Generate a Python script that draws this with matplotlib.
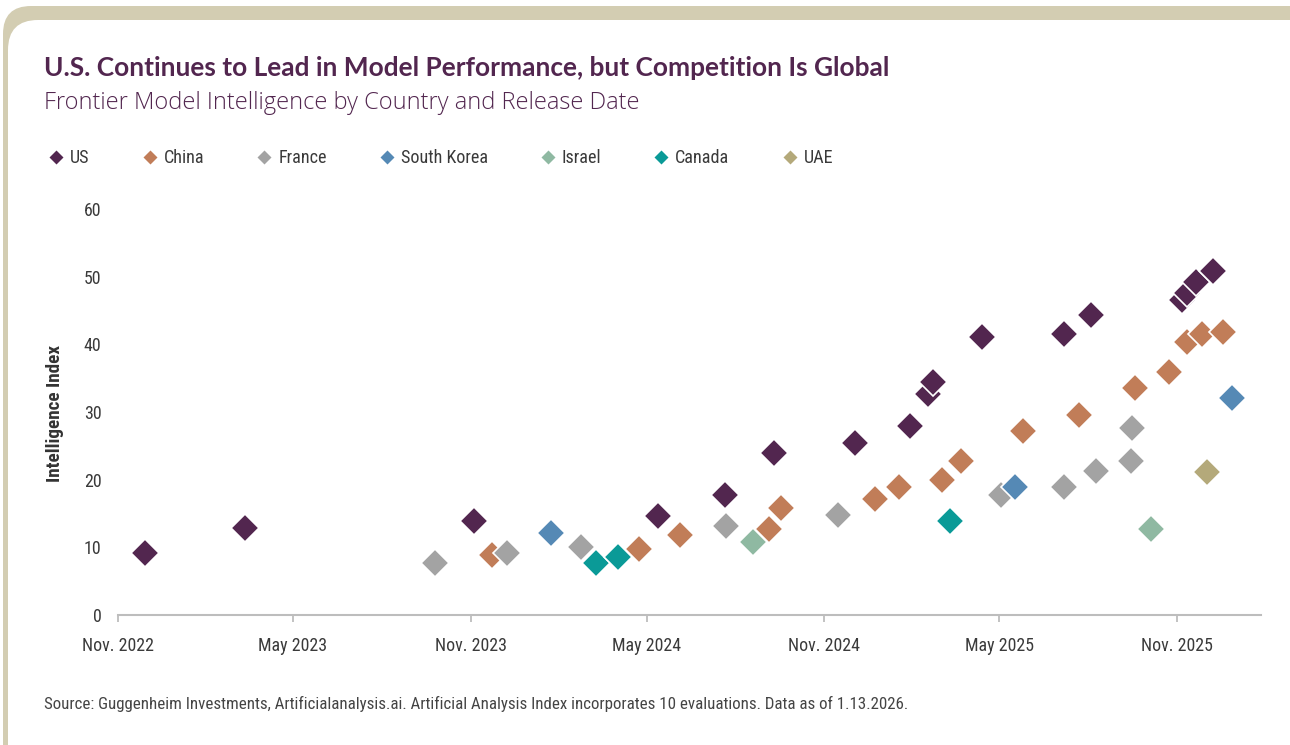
import matplotlib
matplotlib.use("Agg")
import matplotlib.pyplot as plt
import matplotlib.dates as mdates
from matplotlib import font_manager
from matplotlib.patches import FancyBboxPatch
from matplotlib.transforms import IdentityTransform
from matplotlib.lines import Line2D
import pandas as pd

# ---------------- data ----------------
countries = ["US", "China", "France", "South Korea", "Israel", "Canada", "UAE"]
colors = ["#52264F", "#C17D58", "#A3A3A3", "#5589B5", "#8FB9A2", "#0A9A97", "#B4A97A"]

us_dates = ["2022-11-29", "2023-03-12", "2023-11-04", "2024-05-13", "2024-07-21",
            "2024-09-10", "2024-12-03", "2025-01-29", "2025-02-16", "2025-02-22",
            "2025-04-13", "2025-07-07", "2025-08-04", "2025-11-06", "2025-11-11",
            "2025-11-21", "2025-12-08"]
us_values = [9.2, 12.9, 13.9, 14.7, 17.7, 23.9, 25.4, 27.9, 32.6, 34.5,
             41.1, 41.5, 44.3, 46.5, 47.6, 49.2, 50.8]

china_dates = ["2023-11-23", "2024-04-23", "2024-06-05", "2024-09-05", "2024-09-17",
               "2024-12-24", "2025-01-17", "2025-03-03", "2025-03-23", "2025-05-26",
               "2025-07-23", "2025-09-19", "2025-10-24", "2025-11-11", "2025-11-27",
               "2025-12-19"]
china_values = [8.9, 9.7, 11.8, 12.7, 15.8, 17.2, 18.9, 19.9, 22.7, 27.2,
                29.5, 33.5, 35.9, 40.3, 41.5, 41.8]

france_dates = ["2023-09-25", "2023-12-09", "2024-02-23", "2024-07-22", "2024-11-15",
                "2025-05-03", "2025-07-07", "2025-08-09", "2025-09-14", "2025-09-15"]
france_values = [7.7, 9.2, 10.1, 13.2, 14.8, 17.7, 18.9, 21.3, 22.7, 27.6]

korea_dates = ["2024-01-23", "2025-05-17", "2025-12-28"]
korea_values = [12.1, 18.9, 32.1]

israel_dates = ["2024-08-19", "2025-10-05"]
israel_values = [10.8, 12.7]

canada_dates = ["2024-03-10", "2024-04-01", "2025-03-11"]
canada_values = [7.7, 8.6, 13.9]

uae_dates = ["2025-12-02"]
uae_values = [21.1]

series_dates = [us_dates, china_dates, france_dates, korea_dates,
                israel_dates, canada_dates, uae_dates]
series_values = [us_values, china_values, france_values, korea_values,
                 israel_values, canada_values, uae_values]

x_tick_dates = ["2022-11-01", "2023-05-01", "2023-11-01", "2024-05-01",
                "2024-11-01", "2025-05-01", "2025-11-01"]
x_tick_labels = ["Nov. 2022", "May 2023", "Nov. 2023", "May 2024",
                 "Nov. 2024", "May 2025", "Nov. 2025"]
y_ticks = [0, 10, 20, 30, 40, 50, 60]

title = "U.S. Continues to Lead in Model Performance, but Competition Is Global"
subtitle = "Frontier Model Intelligence by Country and Release Date"
y_label = "Intelligence Index"
source = ("Source: Guggenheim Investments, Artificialanalysis.ai. Artificial Analysis "
          "Index incorporates 10 evaluations. Data as of 1.13.2026.")

# ---------------- fonts ----------------
avail = {f.name for f in font_manager.fontManager.ttflist}


def pick(*names):
    for n in names:
        if n in avail:
            return n
    return "DejaVu Sans"


COND = pick("Liberation Sans Narrow", "Roboto Condensed", "Open Sans Condensed",
            "Noto Sans", "Open Sans")
TITLEF = pick("Lato", "Open Sans", "Noto Sans")
SUBF = pick("Open Sans", "Lato", "Noto Sans")

PURPLE = "#52264F"
TXT = "#3A3A3A"
W, H = 1290, 745

fig = plt.figure(figsize=(W / 100, H / 100), dpi=100)
renderer = fig.canvas.get_renderer()


def fit_size(s, width_px, family, weight="normal"):
    t = fig.text(0, 0, s, fontsize=10, family=family, weight=weight)
    w = t.get_window_extent(renderer).width
    t.remove()
    return 10 * width_px / w


def fy(ypix):
    return 1 - ypix / H


def fx(xpix):
    return xpix / W


# ---------------- card background ----------------
beige = "#D3CDB2"
fig.patches.append(FancyBboxPatch((3, -40), 1340, H - 6 + 40,
                                  boxstyle="round,pad=0,rounding_size=28",
                                  transform=IdentityTransform(), fc=beige, ec="none",
                                  zorder=-10))
fig.patches.append(FancyBboxPatch((8, -40), 1340, H - 20 + 40,
                                  boxstyle="round,pad=0,rounding_size=30",
                                  transform=IdentityTransform(), fc="white", ec="none",
                                  zorder=-9))

# ---------------- titles ----------------
fs_title = fit_size(title, 844, TITLEF, "bold")
fig.text(fx(44), fy(76), title, fontsize=fs_title, family=TITLEF, weight="bold",
         color=PURPLE, va="baseline", ha="left")
fs_sub = fit_size(subtitle, 593, SUBF, "light")
fig.text(fx(44), fy(109), subtitle, fontsize=fs_sub, family=SUBF, weight="light",
         color=PURPLE, va="baseline", ha="left")

# ---------------- axes ----------------
ax = fig.add_axes([fx(118), fy(615), fx(1261) - fx(118), fy(209) - fy(615)])
ax.set_facecolor("none")

for i, (name, col) in enumerate(zip(countries, colors)):
    d = pd.to_datetime(series_dates[i])
    ax.plot(d, series_values[i], ls="none", marker="D", ms=14.2, mfc=col,
            mec="white", mew=1.2, clip_on=False, zorder=3 + i)

ax.set_ylim(0, 60)
ax.set_xlim(mdates.date2num(pd.Timestamp("2022-11-01")),
            mdates.date2num(pd.Timestamp("2026-01-27")))
ax.set_yticks(y_ticks)
ax.set_xticks(mdates.date2num(pd.to_datetime(x_tick_dates)))

fs_tick = fit_size("Nov. 2022", 71, COND)
ax.set_xticklabels(x_tick_labels, fontsize=fs_tick, family=COND, color=TXT)
ax.set_yticklabels([str(v) for v in y_ticks], fontsize=fs_tick, family=COND, color=TXT)

for s in ["top", "right", "left"]:
    ax.spines[s].set_visible(False)
ax.spines["bottom"].set_color("#BDBDBD")
ax.spines["bottom"].set_linewidth(1.5)
ax.tick_params(axis="x", direction="out", length=5, width=1.3, color="#BDBDBD", pad=11)
ax.tick_params(axis="y", length=0, pad=12)

fs_ylab = fit_size(y_label, 136, COND, "bold")
fig.text(fx(55), fy(413), y_label, rotation=90, fontsize=fs_ylab, family=COND,
         weight="bold", color="#333333", ha="center", va="center")

# ---------------- legend ----------------
fs_leg = fit_size("South Korea", 87, COND)
xcur = 56
for name, col in zip(countries, colors):
    fig.add_artist(Line2D([fx(xcur)], [fy(157)], transform=fig.transFigure,
                          marker="D", ms=7.5, mfc=col, mec="none", ls="none"))
    t = fig.text(fx(xcur + 14), fy(163), name, fontsize=fs_leg, family=COND,
                 color=TXT, ha="left", va="baseline")
    wl = t.get_window_extent(renderer).width
    xcur = xcur + 14 + wl + 60

# ---------------- source ----------------
fs_src = fit_size(source, 857, COND)
fig.text(fx(44), fy(709), source, fontsize=fs_src, family=COND, color="#444444",
         ha="left", va="baseline")

fig.savefig("out.png", dpi=100)
